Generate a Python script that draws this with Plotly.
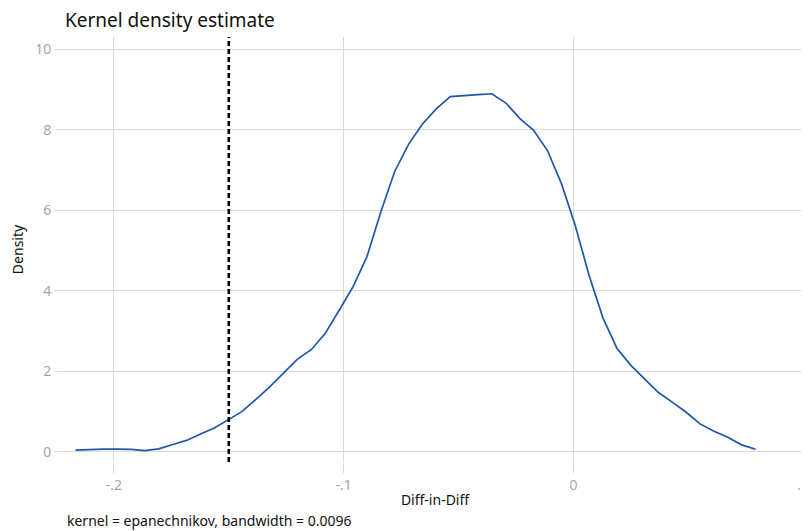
import plotly.graph_objects as go

# Evaluation points (Diff-in-Diff) and estimated density
diff_in_diff = [
    -0.2167, -0.2107, -0.2046, -0.1986, -0.1926, -0.1865, -0.1805, -0.1744, -0.1684, -0.1623,
    -0.1563, -0.1503, -0.1442, -0.1382, -0.1322, -0.1261, -0.1201, -0.1140, -0.1080, -0.1019,
    -0.0959, -0.0899, -0.0838, -0.0778, -0.0717, -0.0657, -0.0596, -0.0536, -0.0476, -0.0415,
    -0.0355, -0.0294, -0.0234, -0.0174, -0.0113, -0.0053, 0.0008, 0.0068, 0.0128, 0.0189,
    0.0249, 0.0310, 0.0370, 0.0430, 0.0491, 0.0551, 0.0612, 0.0672, 0.0732, 0.0793,
]
density = [
    0.04, 0.06, 0.065, 0.065, 0.06, 0.025, 0.07, 0.18, 0.28, 0.44,
    0.59, 0.79, 1.00, 1.30, 1.61, 1.96, 2.30, 2.54, 2.94, 3.52,
    4.10, 4.84, 5.96, 6.96, 7.64, 8.14, 8.52, 8.82, 8.85, 8.87,
    8.89, 8.66, 8.28, 7.99, 7.48, 6.67, 5.62, 4.38, 3.33, 2.57,
    2.15, 1.80, 1.47, 1.23, 0.98, 0.69, 0.51, 0.36, 0.17, 0.06,
]
reference_x = -0.15

x_tickvals = [-0.2, -0.1, 0.0, 0.1]
x_ticktext = ["-.2", "-.1", "0", ".1"]
y_tickvals = [0, 2, 4, 6, 8, 10]
y_ticktext = ["0", "2", "4", "6", "8", "10"]

FONT = "Noto Sans"
GRID = "#d9d9d9"
TICKC = "#a6a6a6"

W, H = 801, 523

fig = go.Figure()
fig.add_trace(go.Scatter(
    x=diff_in_diff, y=density, mode="lines",
    line=dict(color="#1f57a8", width=1.7),
    hoverinfo="skip", showlegend=False,
))

fig.add_shape(
    type="line", xref="x", yref="y domain",
    x0=reference_x, x1=reference_x, y0=0, y1=1,
    line=dict(color="black", width=2.6, dash="5px,3px"),
)

fig.update_layout(
    width=W, height=H,
    margin=dict(l=54, r=1, t=29, b=69),
    paper_bgcolor="white", plot_bgcolor="white",
    font=dict(family=FONT, size=14, color="#111111"),
    title=dict(
        text="Kernel density estimate",
        x=57 / W, xanchor="left", xref="container",
        y=1 - 12 / H, yanchor="middle", yref="container",
        font=dict(family=FONT, size=19, color="#111111"),
    ),
    xaxis=dict(
        range=[-0.2226, 0.1021],
        tickvals=x_tickvals, ticktext=x_ticktext,
        ticklabeloverflow="allow",
        showgrid=True, gridcolor=GRID, gridwidth=1,
        zeroline=False, showline=False,
        ticks="outside", ticklen=10, tickcolor=GRID, tickwidth=1,
        tickfont=dict(family=FONT, size=14, color=TICKC),
        title=dict(text="Diff-in-Diff", standoff=2,
                   font=dict(family=FONT, size=14, color="#111111")),
    ),
    yaxis=dict(
        range=[-0.256, 10.30],
        tickvals=y_tickvals, ticktext=y_ticktext,
        showgrid=True, gridcolor=GRID, gridwidth=1,
        zeroline=False, showline=False,
        ticks="outside", ticklen=7, tickcolor=GRID, tickwidth=1,
        tickfont=dict(family=FONT, size=14, color=TICKC),
        title=dict(text="Density", standoff=9,
                   font=dict(family=FONT, size=14, color="#111111")),
    ),
)

fig.add_annotation(
    text="kernel = epanechnikov, bandwidth = 0.0096",
    xref="paper", yref="paper", x=3 / 746, y=-(512 - 454) / 425,
    xanchor="left", yanchor="middle", showarrow=False,
    font=dict(family=FONT, size=14, color="#111111"),
)

fig.write_html("out.html")
